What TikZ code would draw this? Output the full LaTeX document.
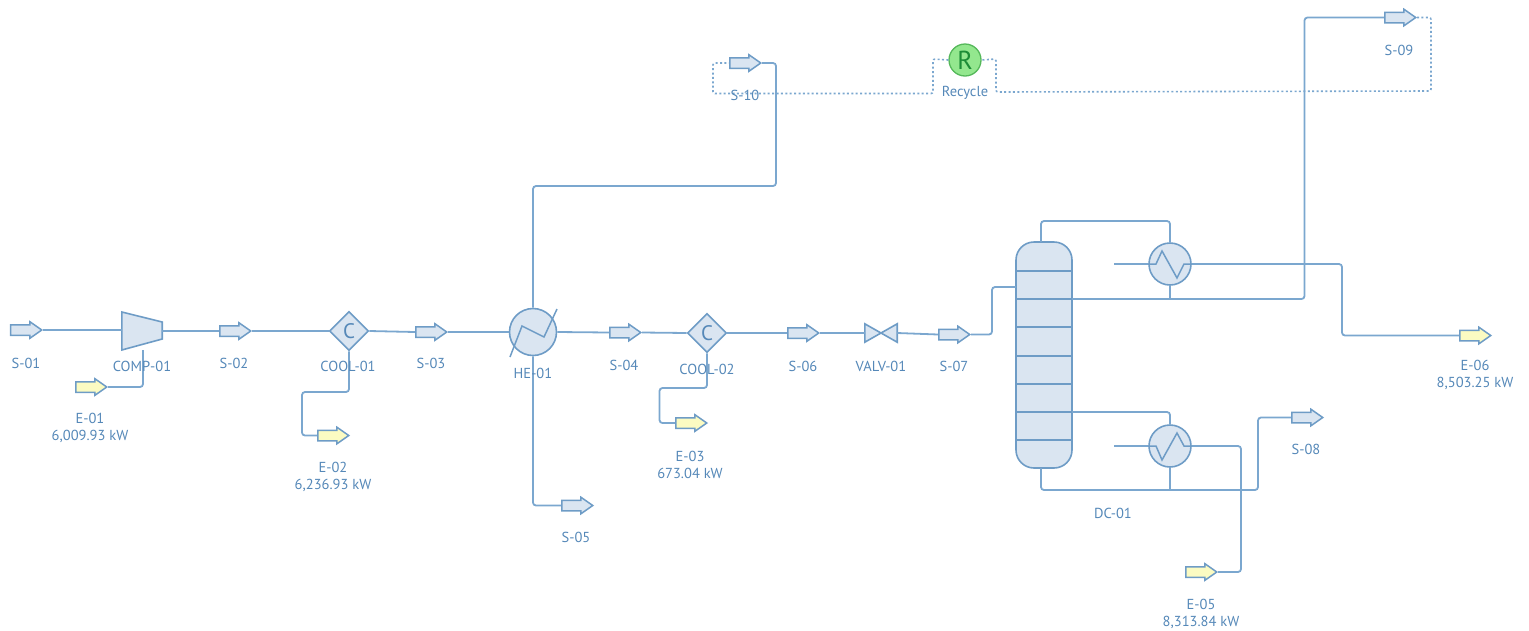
\documentclass[tikz,border=0pt]{standalone}
\usepackage{fontspec}
\setmainfont{PT Sans}
\usetikzlibrary{shapes.geometric,shapes.arrows,calc}
\definecolor{pline}{HTML}{7BA7CF}
\definecolor{pedge}{HTML}{6E9CC6}
\definecolor{pfill}{HTML}{DAE5F1}
\definecolor{ptext}{HTML}{5588B8}
\definecolor{pyellow}{HTML}{FBFBC2}
\definecolor{rfill}{HTML}{93E78E}
\definecolor{redge}{HTML}{55B85A}
\definecolor{rtext}{HTML}{1C8C36}
\tikzset{
  stream/.style={single arrow,draw=pedge,fill=pfill,line width=1.5pt,minimum height=31pt,xshift=-3.5pt,
    inner xsep=0pt,inner ysep=4.5pt,single arrow head extend=3pt,single arrow tip angle=70,anchor=center},
  energy/.style={stream,fill=pyellow},
  conn/.style={draw=pline,line width=1.8pt,rounded corners=3pt},
  rec/.style={draw=pline,line width=1.6pt,dash pattern=on 2pt off 2.4pt,rounded corners=2pt},
  unit/.style={draw=pedge,fill=pfill,line width=1.6pt},
  cool/.style={unit,diamond,aspect=1,minimum size=39pt,inner sep=0pt,text=ptext,font=\fontsize{21}{21}\selectfont},
  hex/.style={unit,circle,minimum size=42pt,inner sep=0pt},
  lab/.style={text=ptext,font=\fontsize{14.5}{17}\selectfont,align=center,inner sep=0pt},
  box/.style={minimum width=40pt,minimum height=40pt,inner sep=0pt},
  coil/.style={draw=pedge,line width=1.5pt}
}
\begin{document}
\begin{tikzpicture}[x=1pt,y=-1pt]
\useasboundingbox (0,0) rectangle (1529,630);
% stream and energy arrows
\node[stream] (s01) at (26,330) {};
\node[stream] (s02) at (235,331) {};
\node[stream] (s03) at (431,332) {};
\node[stream] (s04) at (625,332.5) {};
\node[stream] (s05) at (577,505.5) {};
\node[stream] (s06) at (803,333) {};
\node[stream] (s07) at (954,334.5) {};
\node[stream] (s08) at (1307,417.5) {};
\node[stream] (s09) at (1400,17.5) {};
\node[stream] (s10) at (745,63) {};
\node[energy] (e01) at (91,387) {};
\node[energy] (e02) at (333,435.5) {};
\node[energy] (e03) at (691,423) {};
\node[energy] (e05) at (1201,572) {};
\node[energy] (e06) at (1475,335.5) {};
% units
\node[box] (comp) at (142,331) {};
\draw[unit] (comp.west|-0,312) -- (comp.east|-0,322) -- (comp.east|-0,339) -- (comp.west|-0,350) -- cycle;
\coordinate (compw) at (143,350);
\node[cool] (c1) at (349,331) {C};
\node[cool] (c2) at (707,333) {C};
\node[hex,minimum size=47pt] (he) at (533,332) {};
\draw[coil] (510,357) -- (522,326) -- (544,337) -- (557,309);
\node[box,minimum width=32pt,minimum height=18pt] (valve) at (881,333) {};
\draw[unit] (valve.north west) -- (valve.south east) -- (valve.north east) -- (valve.south west) -- cycle;
\node[unit,rounded corners=18pt,minimum width=56pt,minimum height=226pt,inner sep=0pt] (col) at (1044,355) {};
\foreach \y in {271,299,327,356,384,412,440}
  \draw[draw=pedge,line width=1.6pt] (col.west|-0,\y) -- (col.east|-0,\y);
\node[hex] (cd) at (1170,264) {};
\draw[coil] (cd.west) -- (1156,264) -- (1162,251) -- (1177,278) -- (1184,264) -- (cd.east);
\node[hex] (rb) at (1170,446) {};
\draw[coil] (rb.west) -- (1156,446) -- (1162,460) -- (1177,433) -- (1184,446) -- (rb.east);
\node[circle,draw=redge,fill=rfill,line width=1.3pt,minimum size=32pt,inner sep=0pt,text=rtext,font=\fontsize{26}{26}\selectfont] (rc) at (965,60) {R};
% named free ends
\coordinate (colfeed) at (1016,287);
\coordinate (coltop) at (1041,242);
\coordinate (colbot) at (1041,468);
\coordinate (colvap) at (1072,299);
\coordinate (colliq) at (1072,412);
\coordinate (cdin) at (1114,264);
\coordinate (rbin) at (1114,446);
% connectors
\draw[conn] (s01.east) -- (comp.west|-s01.east);
\draw[conn] (comp.east) -- (s02.west);
\draw[conn] (s02.east) -- (c1.west);
\draw[conn] (c1.east) -- (s03.west);
\draw[conn] (s03.east) -- (he.west);
\draw[conn] (he.east) -- (s04.west);
\draw[conn] (s04.east) -- (c2.west);
\draw[conn] (c2.east) -- (s06.west);
\draw[conn] (s06.east) -- (valve.west);
\draw[conn] (valve.east) -- (s07.west);
\draw[conn] (s07.east) -- (992,334.5) -- (992,287) -- (colfeed);
\draw[conn] (e01.east) -- (143,387) -- (compw);
\draw[conn] (c1.south) -- (349,392) -- (302,392) -- (302,435.5) -- (e02.west);
\draw[conn] (c2.south) -- (707,388) -- (659.5,388) -- (659.5,423) -- (e03.west);
\draw[conn] (he.north) -- (533,186) -- (776,186) -- (776,63) -- (s10.east);
\draw[conn] (he.south) -- (533,505.5) -- (s05.west);
\draw[conn] (coltop) -- (1041,221) -- (1170,221) -- (cd.north);
\draw[conn] (cd.south) -- (1170,299);
\draw[conn] (colvap) -- (1304.5,299) -- (1304.5,17.5) -- (s09.west);
\draw[conn] (cdin) -- (cd.west);
\draw[conn] (cd.east) -- (1342,264) -- (1342,335.5) -- (e06.west);
\draw[conn] (colliq) -- (1170,412) -- (rb.north);
\draw[conn] (rbin) -- (rb.west);
\draw[conn] (rb.east) -- (1241,446) -- (1241,572) -- (e05.east);
\draw[conn] (colbot) -- (1041,490) -- (1258,490) -- (1258,417.5) -- (s08.west);
\draw[conn] (rb.south) -- (1170,490);
% recycle loop
\draw[rec] (s09.east) -- (1431,17.5) -- (1431,91) -- (996,92) -- (996,59) -- (rc.east);
\draw[rec] (rc.west) -- (933,59) -- (933,93.5) -- (713,93.5) -- (713,63) -- (s10.west);
% labels
\node[lab] (ls01) at (26,363) {S-01};
\node[lab] (lcomp) at (142,366) {COMP-01};
\node[lab] (ls02) at (234,363) {S-02};
\node[lab] (lc1) at (348,366) {COOL-01};
\node[lab] (ls03) at (431,363) {S-03};
\node[lab] (lhe) at (533,373) {HE-01};
\node[lab] (ls04) at (624,365) {S-04};
\node[lab] (lc2) at (707,369) {COOL-02};
\node[lab] (ls05) at (576,537) {S-05};
\node[lab] (ls06) at (803,366) {S-06};
\node[lab] (lv) at (881,366) {VALV-01};
\node[lab] (ls07) at (954,366) {S-07};
\node[lab] (ldc) at (1113,513) {DC-01};
\node[lab] (ls08) at (1306,449) {S-08};
\node[lab] (ls09) at (1399,50) {S-09};
\node[lab] (ls10) at (745,95) {S-10};
\node[lab] (lrc) at (965,93) {Recycle};
\node[lab] (le01) at (90,427.5) {E-01\\6,009.93 kW};
\node[lab] (le02) at (333,476.5) {E-02\\6,236.93 kW};
\node[lab] (le03) at (690,464.5) {E-03\\673.04 kW};
\node[lab] (le05) at (1201,614) {E-05\\8,313.84 kW};
\node[lab] (le06) at (1475,374.5) {E-06\\8,503.25 kW};
\end{tikzpicture}
\end{document}
